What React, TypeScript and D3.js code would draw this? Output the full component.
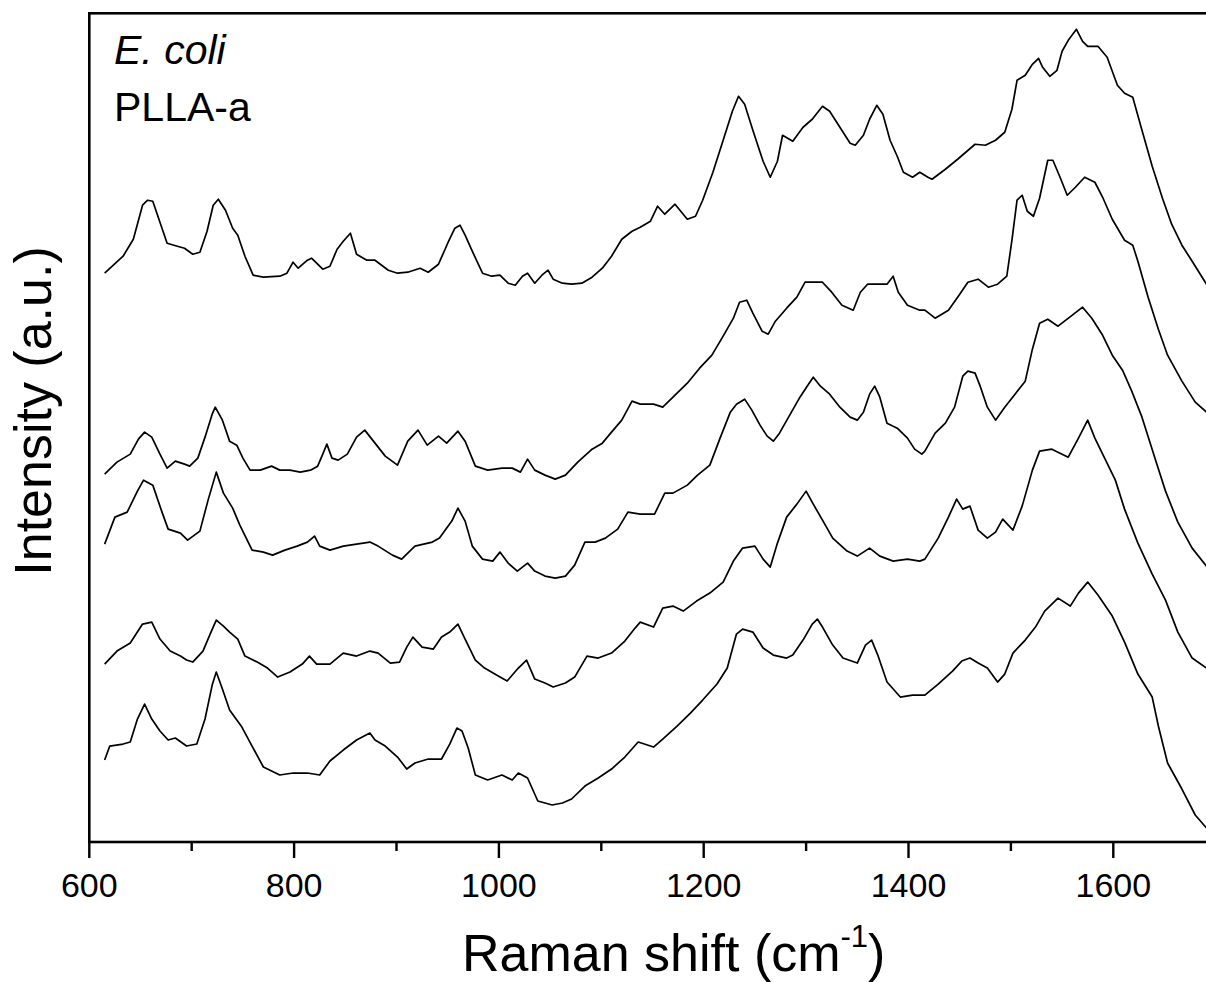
import React from "react";
import * as d3 from "d3";

// Raman shift axis (cm^-1)
const xDomain: [number, number] = [600, 1700];
const majorTicks = [600, 800, 1000, 1200, 1400, 1600];
const minorTicks = [700, 900, 1100, 1300, 1500, 1700];
const yDomain: [number, number] = [0, 829];

const labelOrganism = "E. coli";
const labelSample = "PLLA-a";
const xTitle = "Raman shift (cm";
const xTitleSup = "-1";
const yTitle = "Intensity (a.u.)";

// Spectra, [Raman shift, intensity (a.u., offset stacked)]
const spectrum1: [number, number][] = [
  [615,569],[633,586],[643,603],[652,637],[657,642],[662,641],[669,620],[676,599],[686,596],[693,594],[701,588],[708,590],[715,611],[721,637],[726,643],[733,632],[740,614],[745,607],[752,586],[760,567],[770,565],[786,566],[793,569],[799,580],[804,574],[813,582],[817,584],[823,578],[828,573],[835,576],[842,593],[848,601],[855,609],[861,588],[871,582],[879,582],[892,572],[901,569],[911,570],[923,574],[931,570],[941,578],[950,599],[957,614],[962,617],[967,607],[974,591],[984,569],[993,566],[1001,567],[1009,559],[1016,557],[1023,566],[1028,569],[1035,559],[1042,567],[1048,572],[1053,563],[1062,559],[1071,558],[1081,559],[1091,565],[1101,574],[1110,586],[1120,603],[1130,611],[1138,615],[1148,621],[1155,636],[1162,628],[1172,638],[1184,623],[1192,626],[1199,642],[1209,670],[1219,702],[1228,731],[1234,746],[1240,738],[1248,712],[1258,681],[1265,665],[1272,681],[1277,707],[1287,701],[1297,715],[1306,723],[1316,736],[1323,731],[1333,715],[1343,699],[1348,697],[1356,707],[1362,723],[1369,737],[1375,728],[1382,702],[1389,686],[1395,670],[1404,665],[1411,670],[1419,665],[1423,663],[1436,673],[1448,683],[1465,698],[1475,697],[1485,702],[1494,710],[1501,733],[1506,762],[1514,767],[1521,778],[1527,784],[1531,775],[1538,766],[1545,772],[1550,791],[1556,802],[1564,813],[1570,801],[1575,796],[1585,796],[1594,785],[1604,757],[1611,749],[1619,745],[1628,712],[1638,676],[1648,644],[1657,618],[1667,597],[1677,581],[1691,558]
];

const spectrum2: [number, number][] = [
  [615,368],[627,380],[640,388],[648,403],[654,410],[661,405],[669,388],[676,374],[684,381],[693,378],[698,376],[706,384],[713,405],[720,428],[723,435],[730,422],[737,401],[744,397],[750,384],[757,372],[767,372],[778,376],[786,372],[796,372],[806,370],[816,372],[823,376],[828,388],[832,398],[837,384],[843,382],[852,388],[861,405],[869,412],[879,399],[889,386],[901,377],[911,401],[921,412],[930,397],[941,406],[949,399],[960,411],[967,401],[977,376],[989,372],[1003,374],[1013,374],[1021,370],[1028,383],[1035,372],[1045,367],[1055,363],[1065,367],[1077,380],[1091,393],[1101,399],[1110,410],[1120,422],[1130,441],[1138,438],[1151,438],[1160,435],[1170,445],[1184,459],[1196,474],[1208,487],[1219,506],[1229,524],[1235,540],[1242,542],[1248,529],[1257,511],[1263,508],[1270,521],[1281,534],[1291,545],[1299,560],[1307,560],[1316,560],[1325,550],[1335,537],[1346,532],[1353,550],[1360,558],[1369,558],[1379,558],[1385,566],[1390,550],[1399,537],[1411,532],[1416,532],[1426,524],[1439,532],[1448,545],[1458,560],[1468,563],[1478,555],[1487,558],[1496,566],[1501,602],[1506,642],[1511,647],[1516,631],[1522,626],[1528,644],[1536,682],[1541,682],[1548,665],[1555,647],[1563,655],[1572,665],[1582,660],[1590,644],[1599,623],[1611,602],[1619,597],[1624,581],[1634,545],[1644,513],[1653,487],[1667,461],[1680,440],[1691,430]
];

const spectrum3: [number, number][] = [
  [615,298],[625,325],[637,330],[647,351],[653,362],[662,357],[671,330],[677,313],[689,309],[696,302],[708,311],[716,342],[724,370],[731,349],[740,334],[747,317],[759,292],[770,290],[779,287],[791,292],[803,296],[813,300],[820,306],[825,296],[835,292],[848,296],[861,298],[874,300],[882,296],[896,287],[905,283],[918,296],[935,300],[942,304],[954,321],[960,334],[967,321],[974,296],[984,283],[994,281],[1001,290],[1009,279],[1018,271],[1028,279],[1035,271],[1045,266],[1055,264],[1065,266],[1074,277],[1084,300],[1094,300],[1104,304],[1116,313],[1126,330],[1138,328],[1152,328],[1162,349],[1170,349],[1184,357],[1194,367],[1206,377],[1216,404],[1226,430],[1232,438],[1240,443],[1247,432],[1255,417],[1262,406],[1268,401],[1274,409],[1284,427],[1294,445],[1301,456],[1307,465],[1314,456],[1323,448],[1333,435],[1343,425],[1350,422],[1356,430],[1362,448],[1367,456],[1372,445],[1379,419],[1389,414],[1399,404],[1406,393],[1413,388],[1416,391],[1426,409],[1436,419],[1445,435],[1453,466],[1458,471],[1465,469],[1470,456],[1477,435],[1485,422],[1494,435],[1504,448],[1514,461],[1521,493],[1528,519],[1536,523],[1546,516],[1560,527],[1570,535],[1579,524],[1589,508],[1599,487],[1609,472],[1618,451],[1628,425],[1641,383],[1651,351],[1663,320],[1677,294],[1691,276]
];

const spectrum4: [number, number][] = [
  [615,178],[627,191],[640,199],[652,218],[661,220],[669,203],[679,191],[689,186],[695,182],[701,180],[711,191],[718,208],[724,222],[731,216],[737,210],[745,203],[752,186],[764,180],[774,174],[784,165],[796,170],[808,178],[815,186],[822,178],[835,178],[848,189],[861,186],[874,191],[882,189],[894,179],[903,180],[910,195],[916,205],[925,195],[936,193],[944,205],[952,210],[960,218],[967,203],[977,182],[986,174],[996,168],[1008,161],[1019,174],[1027,182],[1035,163],[1045,159],[1053,155],[1065,159],[1074,165],[1086,186],[1097,184],[1110,189],[1123,201],[1133,214],[1138,220],[1151,215],[1160,234],[1170,236],[1180,231],[1193,241],[1206,249],[1219,260],[1229,281],[1238,294],[1250,296],[1258,283],[1265,275],[1272,299],[1281,325],[1291,338],[1300,351],[1307,338],[1316,322],[1326,304],[1340,291],[1350,286],[1362,294],[1372,286],[1385,281],[1399,283],[1411,281],[1416,283],[1429,304],[1439,325],[1447,343],[1453,333],[1460,336],[1468,312],[1477,304],[1485,310],[1492,323],[1502,312],[1511,336],[1521,372],[1528,391],[1540,393],[1550,388],[1556,385],[1566,404],[1575,422],[1582,404],[1592,383],[1602,362],[1611,333],[1624,299],[1638,268],[1651,242],[1663,210],[1677,184],[1691,174]
];

const spectrum5: [number, number][] = [
  [615,82],[620,96],[633,98],[640,100],[647,123],[654,138],[661,123],[669,111],[677,102],[684,104],[695,96],[705,98],[713,123],[720,157],[724,170],[730,153],[737,132],[749,115],[760,94],[770,75],[786,67],[799,69],[813,69],[825,67],[835,81],[848,92],[861,102],[874,109],[879,102],[889,96],[901,85],[910,73],[918,79],[931,83],[944,83],[952,98],[959,114],[964,111],[970,94],[977,67],[989,62],[1003,67],[1013,62],[1019,69],[1028,64],[1038,41],[1052,37],[1062,39],[1071,43],[1084,56],[1097,64],[1110,73],[1123,85],[1136,100],[1151,95],[1160,103],[1174,116],[1187,129],[1199,142],[1213,158],[1223,174],[1232,208],[1238,213],[1248,210],[1258,194],[1268,187],[1281,184],[1287,187],[1297,202],[1306,218],[1311,223],[1316,215],[1326,197],[1336,184],[1350,179],[1358,197],[1364,202],[1370,187],[1379,160],[1392,145],[1404,147],[1416,147],[1429,158],[1443,171],[1452,181],[1460,184],[1468,179],[1477,174],[1487,160],[1494,168],[1502,189],[1514,202],[1524,215],[1533,231],[1546,244],[1558,236],[1566,249],[1575,260],[1585,247],[1599,226],[1611,200],[1624,168],[1638,145],[1644,116],[1653,79],[1667,53],[1680,27],[1691,14]
];

const spectra = [spectrum1, spectrum2, spectrum3, spectrum4, spectrum5];

const W = 1206;
const H = 982;
const margin = { left: 89.3, top: 13.3, bottom: 842 };
const plotRight = 89.3 + 1100 * 1.024;

export default function App() {
  const x = d3.scaleLinear().domain(xDomain).range([margin.left, plotRight]);
  const y = d3.scaleLinear().domain(yDomain).range([margin.bottom, margin.top]);
  const line = d3
    .line<[number, number]>()
    .x((d) => x(d[0]))
    .y((d) => y(d[1]))
    .curve(d3.curveLinear);

  const font = "'Liberation Sans', Arial, Helvetica, sans-serif";

  return (
    <svg
      width={W}
      height={H}
      style={{ position: "absolute", left: 0, top: 0, background: "#fff" }}
      fontFamily={font}
    >
      <rect x={0} y={0} width={W} height={H} fill="#fff" />
      <defs>
        <clipPath id="plotClip">
          <rect
            x={margin.left}
            y={margin.top}
            width={plotRight - margin.left}
            height={margin.bottom - margin.top}
          />
        </clipPath>
      </defs>

      <g clipPath="url(#plotClip)">
        {spectra.map((s, i) => (
          <path
            key={i}
            d={line(s) || ""}
            fill="none"
            stroke="#000"
            strokeWidth={1.7}
            strokeLinejoin="round"
          />
        ))}
      </g>

      {/* frame */}
      <rect
        x={margin.left}
        y={margin.top}
        width={plotRight - margin.left}
        height={margin.bottom - margin.top}
        fill="none"
        stroke="#000"
        strokeWidth={2.6}
      />

      {/* ticks */}
      {majorTicks.map((t) => (
        <g key={"M" + t}>
          <line
            x1={x(t)}
            x2={x(t)}
            y1={margin.bottom}
            y2={margin.bottom + 16}
            stroke="#000"
            strokeWidth={2.4}
          />
          <text
            x={x(t)}
            y={897}
            textAnchor="middle"
            fontSize={34}
            fill="#000"
          >
            {t}
          </text>
        </g>
      ))}
      {minorTicks.map((t) => (
        <line
          key={"m" + t}
          x1={x(t)}
          x2={x(t)}
          y1={margin.bottom}
          y2={margin.bottom + 9}
          stroke="#000"
          strokeWidth={2.4}
        />
      ))}

      {/* annotations */}
      <text x={114} y={64} fontSize={41} fontStyle="italic" fill="#000">
        {labelOrganism}
      </text>
      <text x={114} y={121} fontSize={41} fill="#000">
        {labelSample}
      </text>

      {/* x title */}
      <text x={462} y={971} fontSize={52} fill="#000">
        {xTitle}
        <tspan fontSize={31} dy={-24}>
          {xTitleSup}
        </tspan>
        <tspan dy={24}>)</tspan>
      </text>

      {/* y title */}
      <text
        transform={`translate(51, 411) rotate(-90)`}
        textAnchor="middle"
        fontSize={52}
        fill="#000"
      >
        {yTitle}
      </text>
    </svg>
  );
}
